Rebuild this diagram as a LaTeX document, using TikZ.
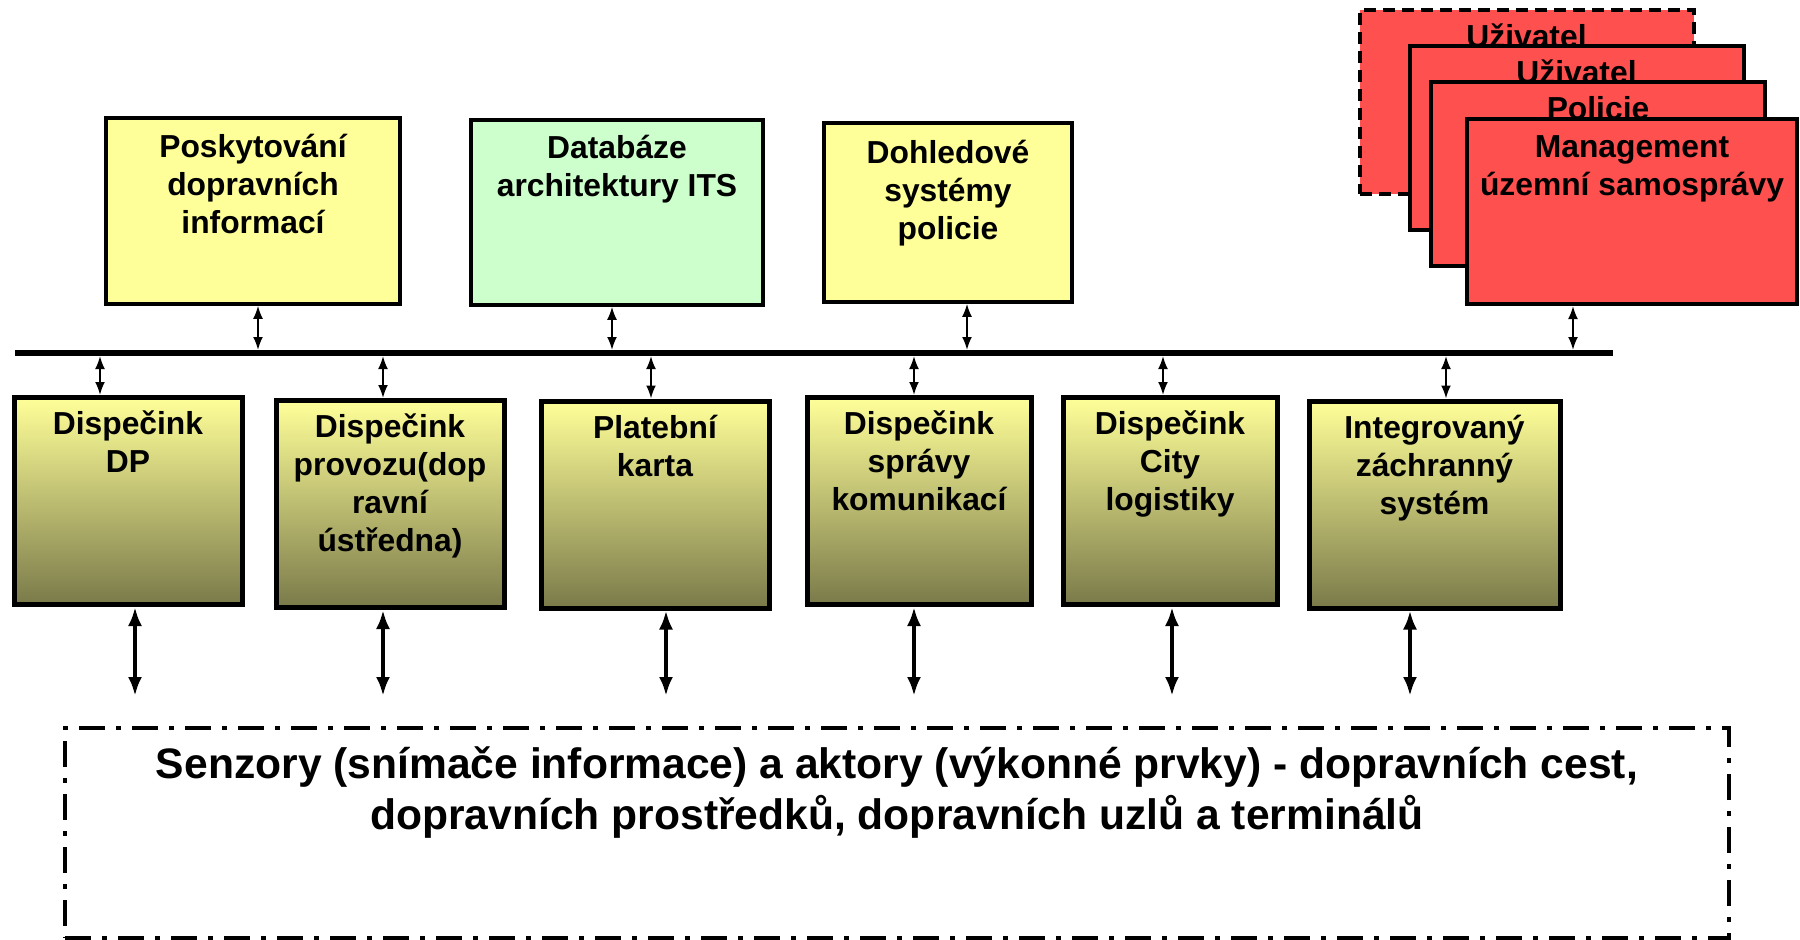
\documentclass[tikz,border=0pt]{standalone}
\usepackage{fontspec}
\setmainfont{Liberation Sans}
\usetikzlibrary{arrows.meta,positioning}
\definecolor{infoyellow}{HTML}{FFFF99}
\definecolor{dbgreen}{HTML}{CCFFCC}
\definecolor{userred}{HTML}{FF5050}
\definecolor{olivebot}{HTML}{7A7A4A}
\newcommand{\boxfont}{\bfseries\fontsize{31.8}{38}\selectfont}
\newcommand{\sensfont}{\bfseries\fontsize{42.6}{51}\selectfont}
\tikzset{
        topbox/.style={draw, line width=3.5pt, fill=infoyellow, inner sep=0pt},
        userbox/.style={draw, line width=4pt, fill=userred, inner sep=0pt, minimum width=334pt, minimum height=184pt},
        dispbox/.style={draw, line width=5pt, top color=infoyellow, bottom color=olivebot, inner sep=0pt, minimum height=207pt},
        boxtext/.style={anchor=north, inner sep=0pt, align=center, font=\boxfont},
        busarrow/.style={{Latex[length=13pt,width=10pt]}-{Latex[length=13pt,width=10pt]}, line width=2pt},
        sensarrow/.style={{Latex[length=19pt,width=14pt]}-{Latex[length=19pt,width=14pt]}, line width=4pt},
}
\begin{document}
\begin{tikzpicture}[x=1pt, y=-1pt]
        \useasboundingbox (0,0) rectangle (1800,940);

        % horni systemy
        \node[topbox, minimum width=294pt, minimum height=186pt] (posk) at (253,211) {};
        \node[boxtext] (posk-t) at ([yshift=-14pt]posk.north) {\strut Poskytování\\dopravních\\informací};
        \node[topbox, fill=dbgreen, minimum width=292pt, minimum height=185pt] (datab) at (617,212.5) {};
        \node[boxtext] (datab-t) at ([yshift=-13pt]datab.north) {\strut Databáze\\architektury ITS};
        \node[topbox, minimum width=248pt, minimum height=179pt] (dohl) at (948,212.5) {};
        \node[boxtext] (dohl-t) at ([yshift=-15pt]dohl.north) {\strut Dohledové\\systémy\\policie};

        % uzivatele
        \node[userbox, dash pattern=on 12pt off 7pt] (uz1) at (1526.5,102) {};
        \node[boxtext] (uz1-t) at ([yshift=-13pt]uz1.north) {\strut Uživatel};
        \node[userbox] (uz2) at (1576.5,138) {};
        \node[boxtext] (uz2-t) at ([yshift=-13pt]uz2.north) {\strut Uživatel};
        \node[userbox] (pol) at (1598,173.5) {};
        \node[boxtext] (pol-t) at ([yshift=-13pt]pol.north) {\strut Policie};
        \node[userbox, minimum width=330pt, minimum height=185pt] (mgmt) at (1632,211.5) {};
        \node[boxtext] (mgmt-t) at ([yshift=-14pt]mgmt.north) {\strut Management\\územní samosprávy};

        % sbernice
        \draw[line width=6pt] (15,353) coordinate (bus-l) -- (1613,353) coordinate (bus-r);
        \coordinate (bus-top) at (0,350);
        \coordinate (bus-bot) at (0,356);

        % dispecinky
        \node[dispbox, minimum width=228pt] (dp) at (128,501) {};
        \node[boxtext] (dp-t) at ([yshift=-13pt]dp.north) {\strut Dispečink\\DP};
        \node[dispbox, minimum width=228pt] (prov) at (390,504) {};
        \node[boxtext] (prov-t) at ([yshift=-13pt]prov.north) {\strut Dispečink\\provozu(dop\\ravní\\ústředna)};
        \node[dispbox, minimum width=228pt] (plat) at (655,504.5) {};
        \node[boxtext] (plat-t) at ([yshift=-13pt]plat.north) {\strut Platební\\karta};
        \node[dispbox, minimum width=224pt] (sprav) at (919,501) {};
        \node[boxtext] (sprav-t) at ([yshift=-13pt]sprav.north) {\strut Dispečink\\správy\\komunikací};
        \node[dispbox, minimum width=214pt] (city) at (1170,501) {};
        \node[boxtext] (city-t) at ([yshift=-13pt]city.north) {\strut Dispečink\\City\\logistiky};
        \node[dispbox, minimum width=251pt] (izs) at (1434.5,504.5) {};
        \node[boxtext] (izs-t) at ([yshift=-13pt]izs.north) {\strut Integrovaný\\záchranný\\systém};

        % senzory a aktory
        \node[draw, line width=4pt, dash pattern=on 26pt off 11pt on 5pt off 11pt, inner sep=0pt,
                minimum width=1664pt, minimum height=210pt] (sens) at (897,833) {};
        \node[anchor=north, inner sep=0pt, align=center, font=\sensfont] (sens-t) at ([yshift=-17pt]sens.north)
                {\strut Senzory (snímače informace) a aktory (výkonné prvky) - dopravních cest,\\dopravních prostředků, dopravních uzlů a terminálů};
        \coordinate (sens-stop) at (0,696);

        % spojeni
        \foreach \n/\x in {posk/258, datab/612, dohl/967, mgmt/1573} {
                \draw[busarrow] (\n.south -| \x,0) -- (bus-top -| \x,0);
            }
        \foreach \n/\x in {dp/100, prov/383, plat/651, sprav/914, city/1163, izs/1446} {
                \draw[busarrow] (\n.north -| \x,0) -- (bus-bot -| \x,0);
            }
        \foreach \n/\x in {dp/135, prov/383, plat/666, sprav/914, city/1172, izs/1410} {
                \draw[sensarrow] (\n.south -| \x,0) -- (sens-stop -| \x,0);
            }
\end{tikzpicture}
\end{document}
